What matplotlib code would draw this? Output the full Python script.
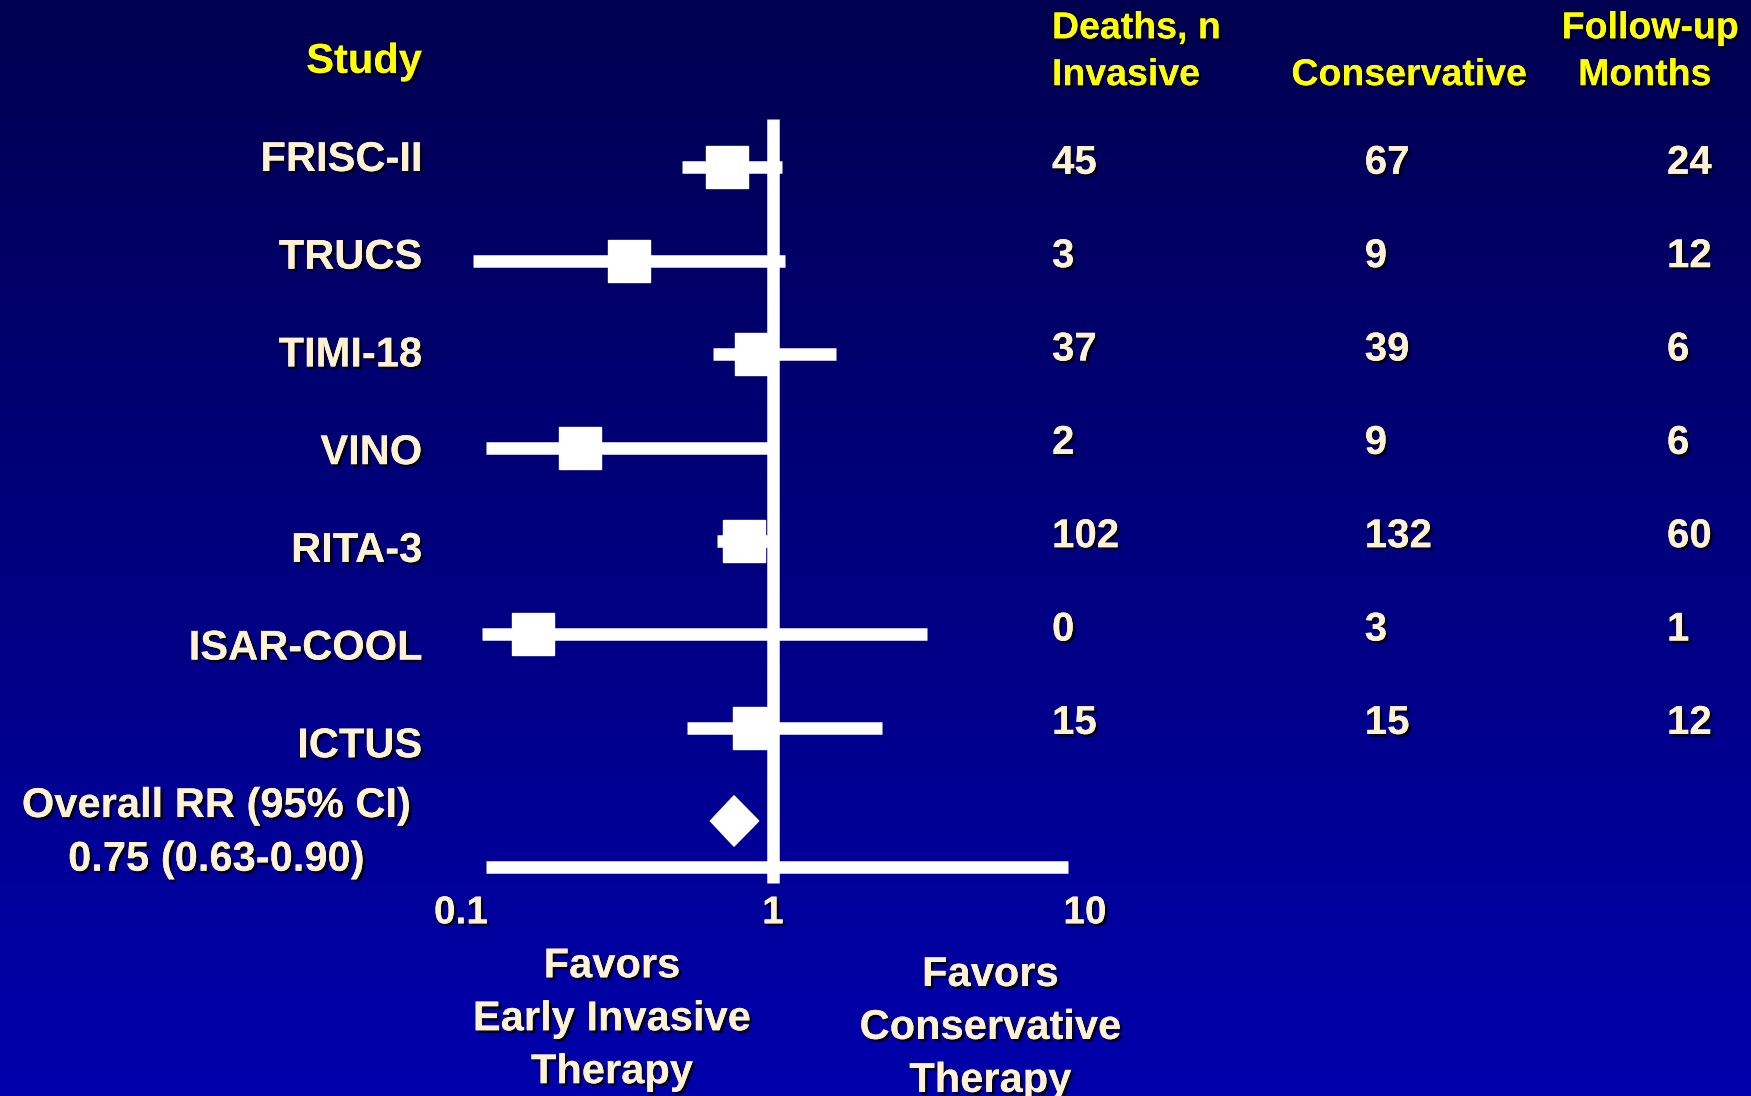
import numpy as np
import matplotlib
matplotlib.use("Agg")
import matplotlib.pyplot as plt
import matplotlib.patheffects as pe
from matplotlib.transforms import blended_transform_factory

# data
studies = ["FRISC-II", "TRUCS", "TIMI-18", "VINO", "RITA-3", "ISAR-COOL", "ICTUS"]
rr = [0.71, 0.345, 0.88, 0.24, 0.81, 0.17, 0.87]
ci_lo = [0.51, 0.109, 0.64, 0.12, 0.66, 0.117, 0.53]
ci_hi = [1.07, 1.09, 1.59, 0.98, 0.98, 3.12, 2.24]
deaths_inv = ["45", "3", "37", "2", "102", "0", "15"]
deaths_cons = ["67", "9", "39", "9", "132", "3", "15"]
followup = ["24", "12", "6", "6", "60", "1", "12"]
overall_rr = 0.75
overall_lo = 0.63
overall_hi = 0.90
tick_vals = [0.1, 1, 10]
tick_labels = ["0.1", "1", "10"]

plt.rcParams['font.family'] = ['Liberation Sans', 'DejaVu Sans']
plt.rcParams['font.weight'] = 'bold'

CREAM = "#fff2d2"
YELLOW = "#ffff00"
shadow = [pe.withSimplePatchShadow(offset=(2, -2), shadow_rgbFace="#000020", alpha=0.9), pe.Normal()]

fig = plt.figure(figsize=(17.51, 10.96), dpi=100)

# background gradient
bg = fig.add_axes([0, 0, 1, 1])
grad = np.linspace(0, 1, 256).reshape(-1, 1)
top = np.array([0, 0, 80]) / 255
bot = np.array([0, 0, 172]) / 255
img = top + grad[..., None] * (bot - top)
img = np.repeat(img, 2, axis=1)
bg.imshow(img, aspect="auto", extent=[0, 1, 0, 1], origin="upper")
bg.axis("off")

# forest axes: log x, 0.1 at 461px and 10 at 1085px
ax = fig.add_axes([461 / 1751, 0, 624 / 1751, 1])
ax.set_xscale("log")
ax.set_xlim(0.1, 10)
ax.set_ylim(9.946, -1.794)
ax.patch.set_alpha(0)
ax.axis("off")

n = len(studies)
rows = np.arange(n)

# reference line and axis
ax.vlines(1, -0.514, 7.66, color="white", lw=9, zorder=2)
ax.hlines(7.488, 0.12, 8.8, color="white", lw=9, zorder=2)

ax.hlines(rows, ci_lo, ci_hi, color="white", lw=9, zorder=3)
ax.plot(rr, rows, "s", color="white", ms=30, zorder=4)

dy = 0.27
ax.fill([overall_lo, overall_rr, overall_hi, overall_rr],
        [n, n - dy, n, n + dy], color="white", zorder=4)

for v, lab in zip(tick_vals, tick_labels):
    ax.text(v, 7.99, lab, ha="center", va="center", fontsize=28,
            color=CREAM, path_effects=shadow)

tr = blended_transform_factory(fig.transFigure, ax.transData)
sh = 0.04  # text sits a bit lower than its row

def txt(x, y, s, color=CREAM, size=30, ha="left"):
    ax.text(x, y + sh, s, transform=tr, ha=ha, va="center", fontsize=size,
            color=color, path_effects=shadow)

# headers
txt(0.241, -1.172, "Study", YELLOW, 30, "right")
txt(0.6008, -1.531, "Deaths, n", YELLOW, 27)
txt(0.6008, -1.029, "Invasive", YELLOW, 27)
txt(0.8048, -1.029, "Conservative", YELLOW, 27, "center")
txt(0.9425, -1.531, "Follow-up", YELLOW, 27, "center")
txt(0.9394, -1.029, "Months", YELLOW, 27, "center")

for i in range(n):
    txt(0.241, -0.12 + 1.0467 * i, studies[i], ha="right")
    yv = i - 0.09
    txt(0.6008, yv, deaths_inv[i], size=29)
    txt(0.7794, yv, deaths_cons[i], size=29)
    txt(0.952, yv, followup[i], size=29)

txt(0.1235, 6.8, "Overall RR (95% CI)", size=30, ha="center")
txt(0.1235, 7.375, "0.75 (0.63-0.90)", size=30, ha="center")

for k, s in enumerate(["Favors", "Early Invasive", "Therapy"]):
    txt(0.3495, 8.517 + 0.567 * k, s, size=30, ha="center")
for k, s in enumerate(["Favors", "Conservative", "Therapy"]):
    txt(0.5656, 8.61 + 0.567 * k, s, size=30, ha="center")

fig.savefig("out.png", dpi=100)
